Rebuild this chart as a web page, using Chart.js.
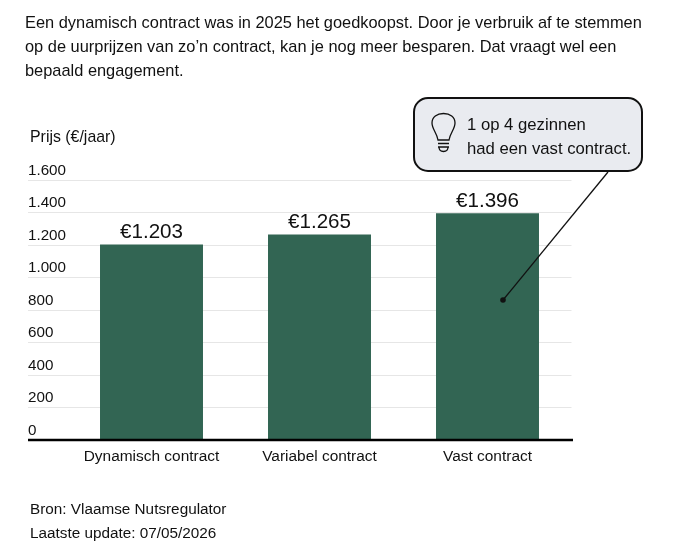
<!DOCTYPE html>
<html lang="nl">
<head>
<meta charset="utf-8">
<title>Prijs per contract</title>
<script src="https://cdn.jsdelivr.net/npm/chart.js@4/dist/chart.umd.min.js"></script>
<style>
  html, body { margin: 0; padding: 0; background: #fff; }
  body { position: relative; width: 680px; height: 555px; overflow: hidden; font-family: "Liberation Sans", Arial, sans-serif; color: #111; }
  #chart { position: absolute; left: 0; top: 0; }
  .txt { position: absolute; white-space: nowrap; }
  #intro { left: 25px; top: 10px; font-size: 16.4px; line-height: 24px; }
  #ytitle { left: 30px; top: 128px; font-size: 15.9px; line-height: 18px; }
  #source { left: 30px; top: 497px; font-size: 15.3px; line-height: 23.5px; }
  #callout { position: absolute; left: 413px; top: 97px; width: 226px; height: 71px; background: #e9ebf0; border: 2px solid #111; border-radius: 15px; }
  #callout div { position: absolute; left: 52px; top: 14px; font-size: 16.7px; line-height: 24px; white-space: nowrap; }
  svg { position: absolute; left: 0; top: 0; }
</style>
</head>
<body>
<canvas id="chart" width="680" height="555"></canvas>
<div class="txt" id="intro">Een dynamisch contract was in 2025 het goedkoopst. Door je verbruik af te stemmen<br>op de uurprijzen van zo’n contract, kan je nog meer besparen. Dat vraagt wel een<br>bepaald engagement.</div>
<div class="txt" id="ytitle">Prijs (€/jaar)</div>
<div class="txt" id="source">Bron: Vlaamse Nutsregulator<br>Laatste update: 07/05/2026</div>
<svg width="680" height="555">
  <line x1="503" y1="300" x2="608" y2="172" stroke="#111" stroke-width="1.3"/>
  <circle cx="503" cy="300" r="2.8" fill="#111"/>
</svg>
<div id="callout"><div>1 op 4 gezinnen<br>had een vast contract.</div></div>
<svg width="680" height="555">
  <path d="M438 140 C437 133 432 129 432 123 C432 117 437 113.500 443.500 113.500 C450 113.500 455 117 455 123 C455 129 450 133 449 140 Z" fill="none" stroke="#111" stroke-width="1.3"/>
  <path d="M438 143.500 H449 M438 147 H449 M439 147 Q439 151.500 443.500 151.500 Q448 151.500 448 147" fill="none" stroke="#111" stroke-width="1.3"/>
</svg>
<script>
// Prijs per contracttype
var categories = ['Dynamisch contract', 'Variabel contract', 'Vast contract'];
var prices = [1203, 1265, 1396];
var yTicks = [0, 200, 400, 600, 800, 1000, 1200, 1400, 1600];

function formatNumber(v) {
    return String(v).replace(/\B(?=(\d{3})+$)/g, '.');
}

// Bedrag boven elke balk en zwarte basislijn over de balken
var barExtras = {
    id: 'barExtras',
    afterDatasetsDraw: function(chart) {
        var ctx = chart.ctx;
        var meta = chart.getDatasetMeta(0);
        var y0 = chart.scales.y.getPixelForValue(0);
        ctx.save();
        ctx.fillStyle = '#111';
        ctx.font = '20.6px "Liberation Sans", Arial, sans-serif';
        ctx.textAlign = 'center';
        ctx.textBaseline = 'bottom';
        meta.data.forEach(function(bar, i) {
            ctx.fillText('€' + formatNumber(prices[i]), bar.x, bar.y - 1.5);
        });
        ctx.strokeStyle = '#000';
        ctx.lineWidth = 2.5;
        ctx.beginPath();
        ctx.moveTo(28, y0);
        ctx.lineTo(573, y0);
        ctx.stroke();
        ctx.restore();
    }
};

var chart = new Chart(document.getElementById('chart').getContext('2d'), {
    type: 'bar',
    data: {
        labels: categories,
        datasets: [{
            data: prices,
            backgroundColor: '#326553',
            barPercentage: 1,
            categoryPercentage: 0.613
        }]
    },
    options: {
        responsive: false,
        animation: false,
        layout: { padding: { left: 28, right: 108.5, top: 180, bottom: 85 } },
        plugins: { legend: { display: false }, tooltip: { enabled: false } },
        scales: {
            x: {
                grid: { display: false },
                border: { display: false },
                afterFit: function(axis) { axis.height = 30; },
                ticks: {
                    color: '#111',
                    padding: -1,
                    maxRotation: 0,
                    font: { family: '"Liberation Sans", Arial, sans-serif', size: 15.45 }
                }
            },
            y: {
                min: yTicks[0],
                max: yTicks[yTicks.length - 1],
                afterBuildTicks: function(axis) {
                    axis.ticks = yTicks.map(function(v) { return { value: v }; });
                },
                afterFit: function(axis) { axis.width = 39.5; },
                border: { display: false },
                grid: { color: '#e6e6e6', tickColor: '#e6e6e6', tickLength: 39.5, lineWidth: 1 },
                ticks: {
                    color: '#111',
                    crossAlign: 'far',
                    labelOffset: -9.5,
                    font: { family: '"Liberation Sans", Arial, sans-serif', size: 15.2 },
                    callback: function(v) { return formatNumber(v); }
                }
            }
        }
    },
    plugins: [barExtras]
});
</script>
</body>
</html>
